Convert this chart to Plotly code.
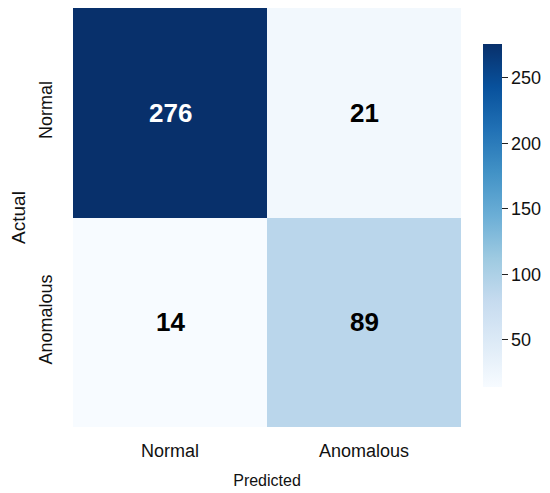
import plotly.graph_objects as go

# confusion matrix values
actual_labels = ["Normal", "Anomalous"]
predicted_labels = ["Normal", "Anomalous"]
counts = [[276, 21],
          [14, 89]]
cbar_ticks = [50, 100, 150, 200, 250]

zmin = min(min(r) for r in counts)
zmax = max(max(r) for r in counts)

fig = go.Figure()

fig.add_trace(go.Heatmap(
    z=counts,
    x=predicted_labels,
    y=actual_labels,
    colorscale="Blues",
    zmin=zmin,
    zmax=zmax,
    hoverinfo="skip",
    colorbar=dict(
        thickness=19,
        len=0.819,
        lenmode="fraction",
        x=1.057,
        xanchor="left",
        xpad=0,
        y=0.505,
        yanchor="middle",
        ypad=0,
        outlinewidth=0,
        tickvals=cbar_ticks,
        ticks="outside",
        ticklen=6,
        tickwidth=1.3,
        tickcolor="#222222",
        tickfont=dict(family="Liberation Sans, Arial", size=18, color="#111111"),
    ),
))

# numbers in the cells, white on dark cells and black on light ones
mid = (zmin + zmax) / 2
for i, row in enumerate(counts):
    for j, v in enumerate(row):
        fig.add_annotation(
            x=predicted_labels[j], y=actual_labels[i], text="<b>%d</b>" % v,
            showarrow=False,
            font=dict(family="Liberation Sans, Arial", size=26,
                      color="white" if v > mid else "black"),
        )

fig.update_xaxes(
    title=dict(text="Predicted", font=dict(family="Liberation Sans, Arial", size=16, color="#111111"), standoff=15),
    tickfont=dict(family="Liberation Sans, Arial", size=18, color="#111111"),
    ticks="outside", ticklen=7, tickcolor="white",
    showgrid=False, zeroline=False, showline=False,
)
fig.update_yaxes(
    title=dict(text="Actual", font=dict(family="Liberation Sans, Arial", size=19, color="#111111"), standoff=14),
    tickfont=dict(family="Liberation Sans, Arial", size=18, color="#111111"),
    tickangle=-90,
    autorange="reversed",
    ticks="outside", ticklen=13, tickcolor="white",
    showgrid=False, zeroline=False, showline=False,
)

# the page body adds 8px around the figure, so the figure is a bit smaller than the window
fig.update_layout(
    width=542,
    height=485,
    margin=dict(l=65, r=89, t=0, b=66, autoexpand=False),
    plot_bgcolor="white",
    paper_bgcolor="white",
)

fig.write_html("out.html")
